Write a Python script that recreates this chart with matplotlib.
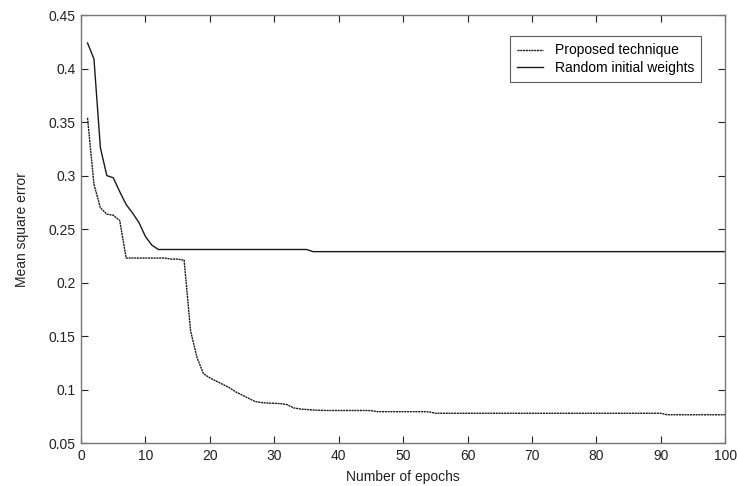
import matplotlib
matplotlib.use("Agg")
import matplotlib.pyplot as plt

plt.rcParams['font.family'] = ['Liberation Sans', 'DejaVu Sans']

epochs = list(range(1, 101))

proposed = [
    0.354, 0.292, 0.270, 0.264, 0.263, 0.258, 0.223, 0.223, 0.223, 0.223,
    0.223, 0.223, 0.223, 0.222, 0.222, 0.221, 0.155, 0.130, 0.115, 0.111,
    0.108, 0.105, 0.102, 0.098, 0.095, 0.092, 0.089, 0.088, 0.0875, 0.0873,
    0.087, 0.086, 0.083, 0.082, 0.0815, 0.081, 0.0808, 0.0806, 0.0806, 0.0806,
    0.0806, 0.0806, 0.0806, 0.0806, 0.0805, 0.0795, 0.0795, 0.0795, 0.0795, 0.0795,
    0.0795, 0.0795, 0.0795, 0.0793, 0.078, 0.078, 0.078, 0.078, 0.078, 0.078,
    0.078, 0.078, 0.078, 0.078, 0.078, 0.078, 0.078, 0.078, 0.078, 0.078,
    0.078, 0.078, 0.078, 0.078, 0.078, 0.078, 0.078, 0.078, 0.078, 0.078,
    0.078, 0.078, 0.078, 0.078, 0.078, 0.078, 0.078, 0.078, 0.078, 0.078,
    0.0766, 0.0766, 0.0766, 0.0766, 0.0766, 0.0766, 0.0766, 0.0766, 0.0766, 0.0766,
]

random_init = [
    0.424, 0.409, 0.326, 0.300, 0.298, 0.285, 0.273, 0.265, 0.256, 0.243,
    0.235, 0.231, 0.231, 0.231, 0.231, 0.231, 0.231, 0.231, 0.231, 0.231,
    0.231, 0.231, 0.231, 0.231, 0.231, 0.231, 0.231, 0.231, 0.231, 0.231,
    0.231, 0.231, 0.231, 0.231, 0.231, 0.229, 0.229, 0.229, 0.229, 0.229,
    0.229, 0.229, 0.229, 0.229, 0.229, 0.229, 0.229, 0.229, 0.229, 0.229,
    0.229, 0.229, 0.229, 0.229, 0.229, 0.229, 0.229, 0.229, 0.229, 0.229,
    0.229, 0.229, 0.229, 0.229, 0.229, 0.229, 0.229, 0.229, 0.229, 0.229,
    0.229, 0.229, 0.229, 0.229, 0.229, 0.229, 0.229, 0.229, 0.229, 0.229,
    0.229, 0.229, 0.229, 0.229, 0.229, 0.229, 0.229, 0.229, 0.229, 0.229,
    0.229, 0.229, 0.229, 0.229, 0.229, 0.229, 0.229, 0.229, 0.229, 0.229,
]

series_labels = ["Proposed technique", "Random initial weights"]
xticks = [0, 10, 20, 30, 40, 50, 60, 70, 80, 90, 100]
yticks = [0.05, 0.1, 0.15, 0.2, 0.25, 0.3, 0.35, 0.4, 0.45]
ytick_labels = ["0.05", "0.1", "0.15", "0.2", "0.25", "0.3", "0.35", "0.4", "0.45"]

fig = plt.figure(figsize=(7.37, 4.86), dpi=100)
ax = fig.add_axes([0.110, 0.0880, 0.874, 0.8810])

ax.plot(epochs, proposed, color='#1a1a1a', lw=1.0, linestyle=(0, (1.5, 0.5)),
        label=series_labels[0])
ax.plot(epochs, random_init, color='#1a1a1a', lw=1.0, linestyle='-',
        label=series_labels[1])

ax.set_xlim(0, 100)
ax.set_ylim(0.05, 0.45)
ax.set_xticks(xticks)
ax.set_yticks(yticks)
ax.set_yticklabels(ytick_labels)
ax.tick_params(direction='in', length=5, width=0.8, top=True, right=True,
               labelsize=10, colors='#222222', pad=4)
for s in ax.spines.values():
    s.set_color('#777777')
    s.set_linewidth(1.0)

ax.set_xlabel("Number of epochs", fontsize=10, color='#222222', labelpad=5)
ax.set_ylabel("Mean square error", fontsize=10, color='#222222', labelpad=14)

leg = ax.legend(loc='upper left', bbox_to_anchor=(0.666, 0.95), fontsize=10,
                frameon=True, fancybox=False, handlelength=1.9,
                borderpad=0.5, labelspacing=0.25, handletextpad=0.8,
                borderaxespad=0)
leg.get_frame().set_edgecolor('#333333')
leg.get_frame().set_linewidth(0.8)

fig.savefig("out.png", dpi=100)
